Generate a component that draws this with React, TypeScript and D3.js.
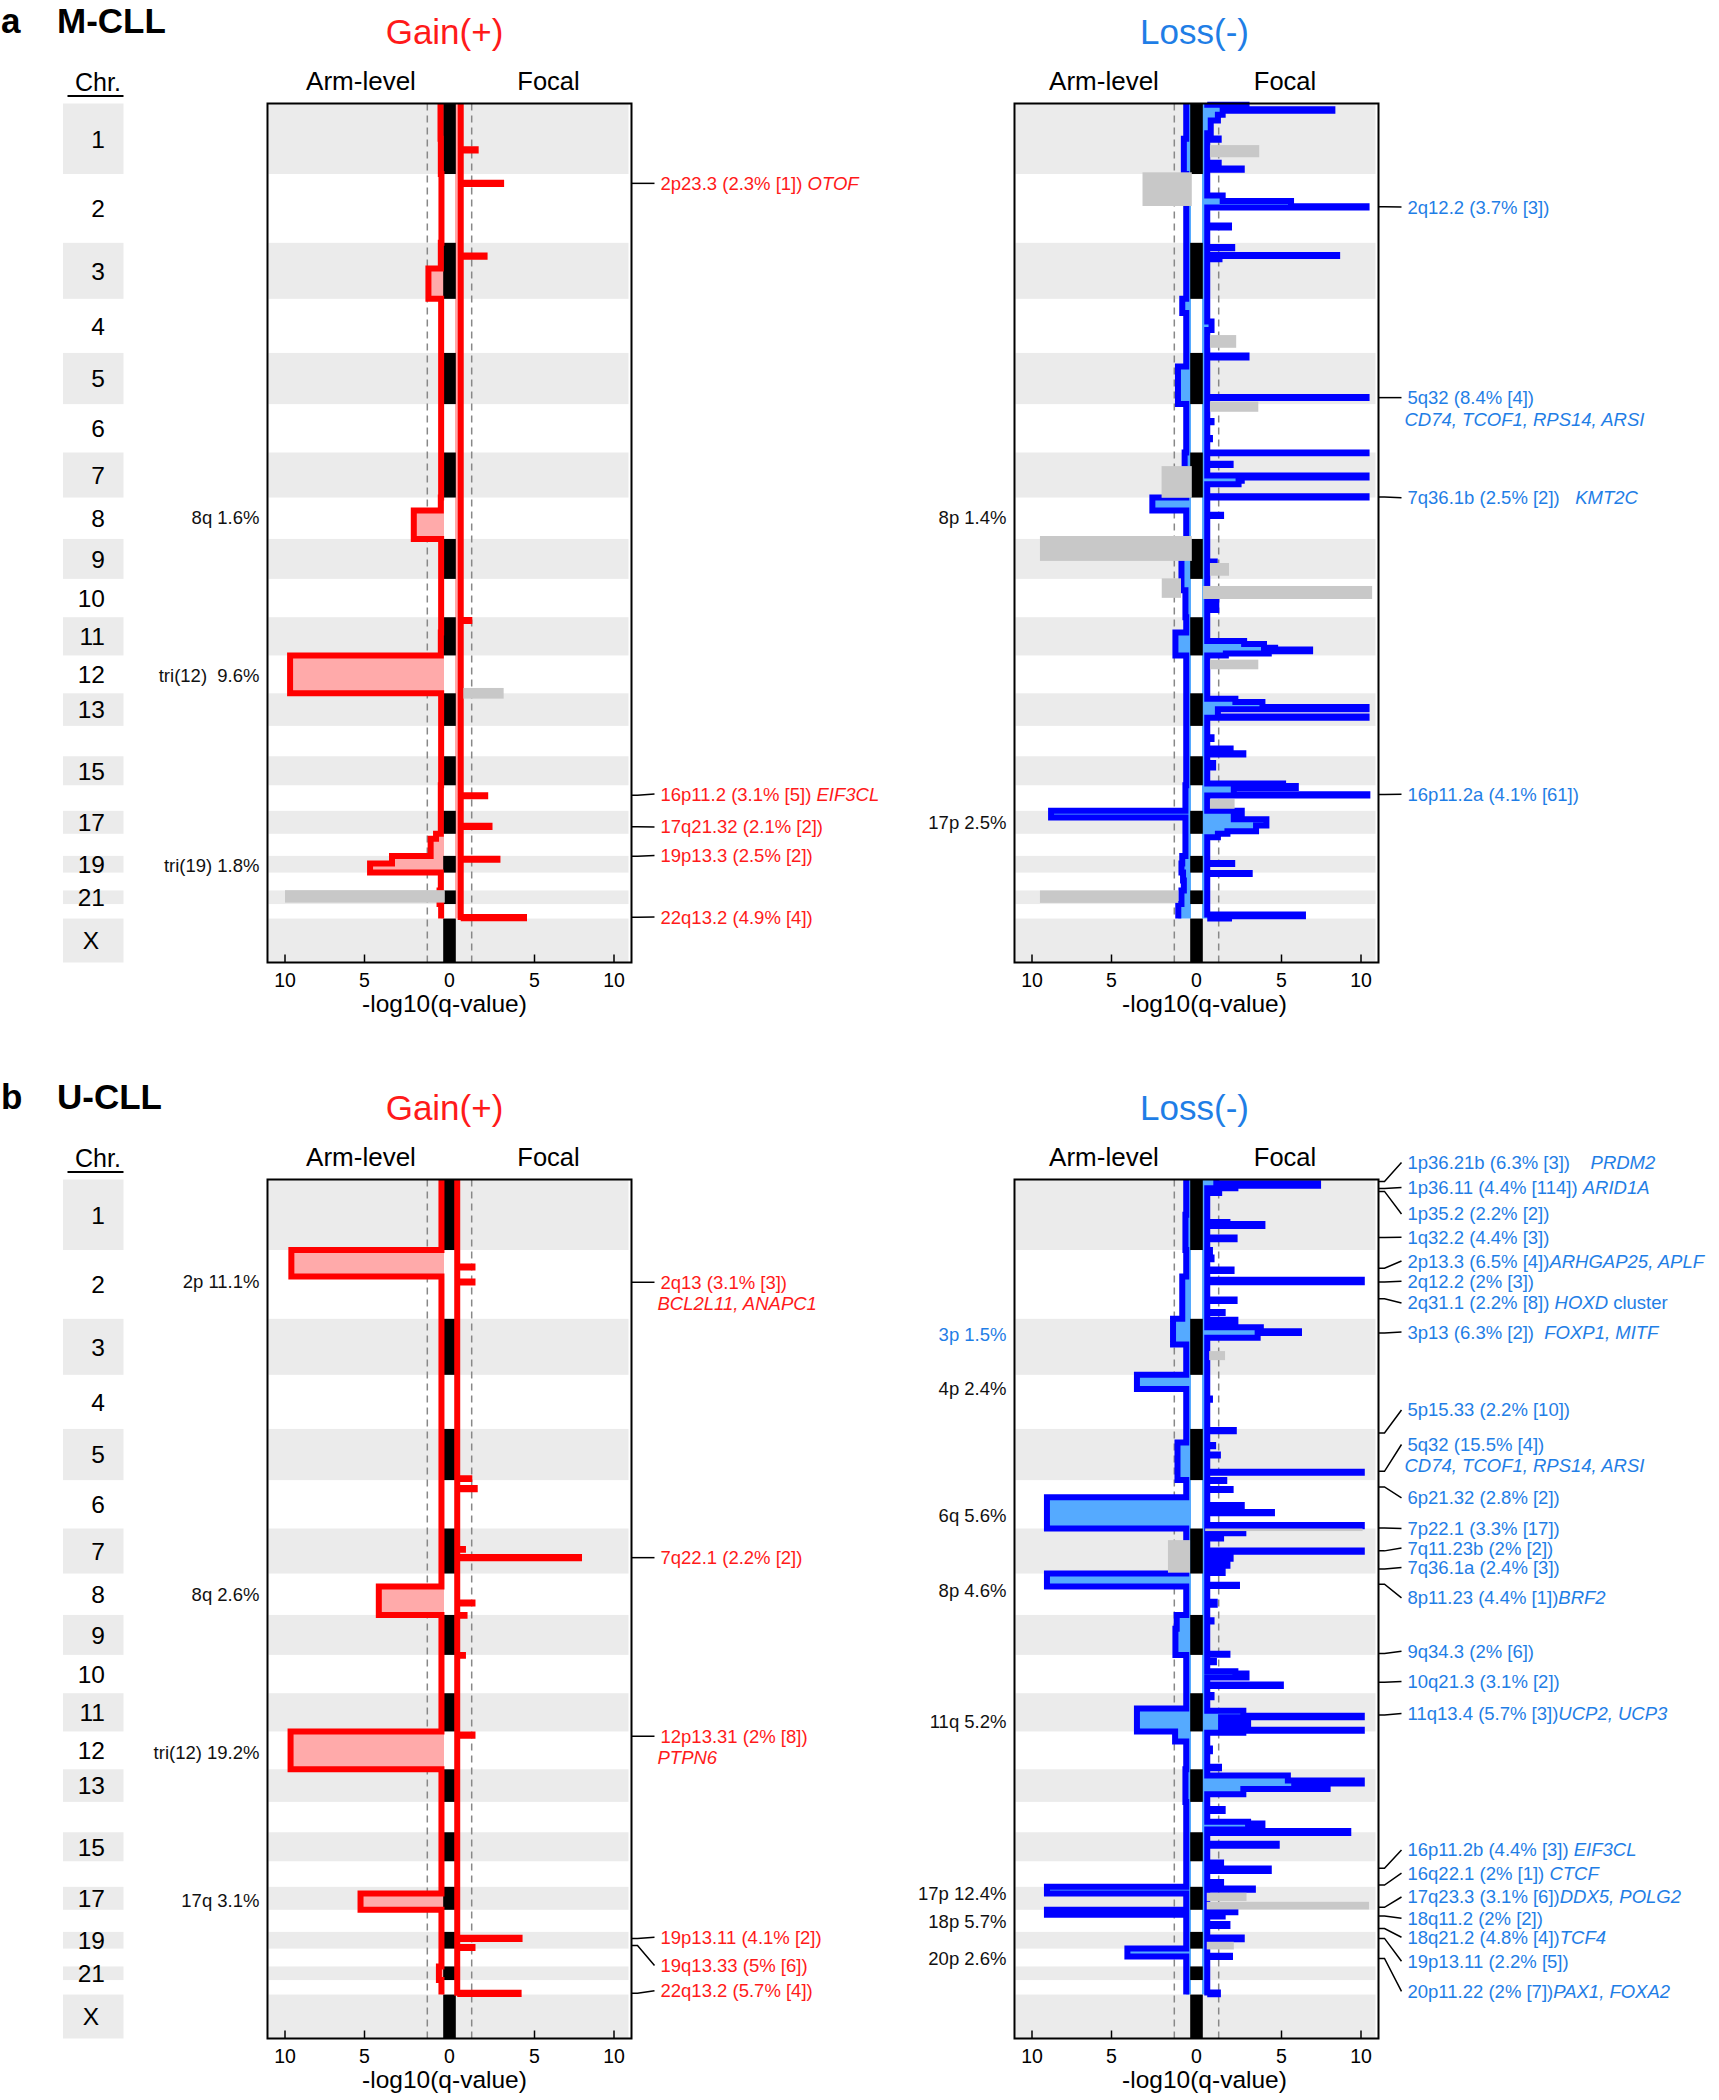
import React from 'react';
import * as d3 from 'd3';

type Pt = [number, number];
type Seg = [number, number, number, number]; // chr, startMb, endMb, -log10(q)
type Gray = [number, number, number, number, number, 'L' | 'R'];
type Pos = [number, number]; // chr, Mb
interface Ann { text: string; gene?: string; sep?: string; tail?: string; line2?: string; at: Pos; lab: Pos; }
interface ArmLabel { text: string; at: Pos; blue?: boolean; }

const chrNames = ['1', '2', '3', '4', '5', '6', '7', '8', '9', '10', '11', '12', '13', '14', '15', '16', '17', '18', '19', '20', '21', '22', 'X'];
const chrLengths = [249.25, 243.2, 198.0, 191.15, 180.9, 171.1, 159.1, 146.4, 141.2, 135.5, 135.0, 133.85, 115.2, 107.35, 102.5, 90.35, 81.2, 78.1, 59.1, 63.0, 48.1, 51.3, 155.3];
const centromeres = [125, 93.3, 91, 50.4, 48.4, 61, 59.9, 45.6, 49, 40.2, 53.7, 35.8, 17.9, 17.6, 19, 36.6, 24, 17.2, 26.5, 27.5, 13.2, 14.7, 60.6];
const labeledChrs = ['1', '2', '3', '4', '5', '6', '7', '8', '9', '10', '11', '12', '13', '15', '17', '19', '21', 'X'];
const tickValues = [10, 5, 0, 5, 10];

// arm-level -log10(q) per autosome: [p, q]
const gainArmM = [[0.22, 0.2], [0.16, 0.16], [0.2, 0.98], [0.18, 0.18], [0.18, 0.18], [0.18, 0.18], [0.18, 0.18], [0.2, 1.9], [0.18, 0.18], [0.18, 0.18], [0.18, 0.2], [9.68, 9.68], [0.18, 0.18], [0.18, 0.18], [0.18, 0.18], [0.2, 0.2], [0.2, 0.2], [0.5, 0.84], [3.27, 4.65], [0.2, 0.2], [0.28, 0.28], [0.18, 0.18]];
const lossArmM = [[0.3, 0.45], [0.3, 0.3], [0.3, 0.3], [0.55, 0.3], [0.3, 0.82], [0.3, 0.3], [0.4, 0.3], [2.43, 0.3], [0.3, 0.6], [0.6, 0.35], [0.3, 0.98], [0.3, 0.3], [0.3, 0.3], [0.3, 0.3], [0.3, 0.3], [0.35, 0.35], [8.8, 0.35], [0.35, 0.35], [0.55, 0.6], [0.5, 0.45], [0.6, 0.6], [0.8, 0.8]];
const gainArmU = [[0.16, 0.16], [9.6, 0.16], [0.16, 0.16], [0.16, 0.16], [0.16, 0.16], [0.16, 0.16], [0.16, 0.16], [0.16, 4.1], [0.16, 0.16], [0.16, 0.16], [0.16, 0.16], [9.65, 9.65], [0.16, 0.16], [0.16, 0.16], [0.16, 0.16], [0.16, 0.16], [0.16, 5.25], [0.16, 0.16], [0.16, 0.16], [0.16, 0.16], [0.32, 0.32], [0.16, 0.16]];
const lossArmU = [[0.3, 0.35], [0.3, 0.55], [1.13, 0.3], [3.4, 0.3], [0.3, 0.85], [0.3, 9.06], [0.3, 0.3], [9.06, 0.3], [0.9, 0.98], [0.3, 0.3], [0.3, 3.4], [1.0, 0.3], [0.35, 0.35], [0.3, 0.3], [0.3, 0.3], [0.3, 0.3], [9.06, 0.3], [9.06, 0.3], [0.3, 0.3], [4.0, 0.3], [0.3, 0.3], [0.3, 0.3]];

// focal peaks
const gainBaseM = 0.36;
const gainFocalM: Seg[] = [[1, 162, 166, 1.3], [2, 31, 35, 2.9], [3, 45, 49, 1.86], [11, 10, 13, 0.9], [16, 35, 39, 1.9], [17, 53, 57, 2.17], [19, 10, 14, 2.67], [22, 46, 50.5, 4.34]];
const lossBaseM = 0.33;
const lossFocalM: Seg[] = [
  [1, 4, 20, 2.8], [1, 20, 26, 8.2], [1, 26, 40, 1.3], [1, 40, 60, 1.0], [1, 60, 105, 0.55], [1, 124, 128, 1.05], [1, 209, 213, 1.05], [1, 230, 234, 2.5],
  [2, 76, 95, 1.3], [2, 95, 114, 5.6], [2, 114, 118, 10.35], [2, 182, 189, 1.7],
  [3, 15, 19, 1.9], [3, 43, 47, 8.5], [3, 47, 58, 1.1],
  [4, 80, 110, 0.6],
  [5, 9, 16, 2.8], [5, 156, 159, 10.35],
  [6, 60, 64, 0.6], [6, 120, 124, 0.5],
  [7, 0, 3, 10.35], [7, 40, 44, 1.8], [7, 81, 88, 10.35], [7, 88, 100, 2.5], [7, 100, 112, 2.3], [7, 155, 159.1, 10.35],
  [8, 61, 65, 1.2],
  [9, 80, 88, 0.8],
  [10, 80, 90, 0.9], [10, 100, 110, 0.9],
  [11, 84, 95, 2.65], [11, 95, 108, 3.9], [11, 108, 114, 4.6], [11, 114, 120, 6.8], [11, 120, 128, 4.2], [11, 128, 135, 1.5],
  [13, 19, 31, 2.1], [13, 31, 48, 3.8], [13, 48, 56, 10.35], [13, 56, 82, 1.0], [13, 82, 86, 10.35],
  [14, 40, 46, 0.6], [14, 80, 87, 1.8], [14, 97, 101, 2.6],
  [15, 24, 40, 0.7], [15, 96, 102.5, 5.1],
  [16, 0, 3, 5.1], [16, 3, 10, 5.9], [16, 10, 32, 2.0], [16, 32, 36, 10.4],
  [17, 0, 20, 2.5], [17, 20, 30, 2.0], [17, 30, 52, 4.05], [17, 52, 72, 3.4], [17, 72, 81.2, 1.6],
  [18, 0, 12, 1.0],
  [19, 25, 29, 1.9],
  [20, 1, 5, 3.0],
  [22, 37, 43, 6.35], [22, 43, 51.3, 1.7],
];
const gainBaseU = 0.14;
const gainFocalU: Seg[] = [[2, 58, 62, 1.1], [2, 111, 115, 1.1], [5, 174, 177, 0.9], [6, 28, 32, 1.24], [7, 72, 75, 0.5], [7, 101, 105, 7.8], [8, 102, 106, 1.1], [9, 0, 3, 0.6], [10, 0, 3, 0.5], [12, 11, 15, 1.1], [19, 21, 25, 4.06], [19, 53, 57, 1.1], [22, 45, 49, 4.0]];
const lossBaseU = 0.33;
const lossFocalU: Seg[] = [
  [1, 0, 13, 0.9], [1, 13, 22, 7.3], [1, 22, 31, 2.1], [1, 44, 48, 1.08], [1, 150, 157, 1.6], [1, 157, 164, 3.8], [1, 205, 211, 2.05],
  [2, 0, 5, 0.5], [2, 26, 33, 0.6], [2, 69, 74, 1.86], [2, 105, 114, 10.05], [2, 175, 180, 2.05], [2, 219, 223, 1.3],
  [3, 3, 13, 2.1], [3, 30, 44, 3.7], [3, 44, 50, 6.1], [3, 50, 67, 3.5],
  [4, 84, 88, 0.5],
  [5, 4, 8, 2.0], [5, 57, 61, 0.7], [5, 90, 94, 1.0], [5, 151, 155, 10.05],
  [6, 0, 3, 1.4], [6, 31, 35, 1.8], [6, 88, 92, 2.5], [6, 113, 117, 4.4], [6, 159, 163, 10.05],
  [7, 13, 17, 2.6], [7, 30, 35, 1.2], [7, 78, 82, 10.05], [7, 103, 107, 1.8], [7, 128, 132, 1.6], [7, 153, 157, 1.3],
  [8, 40, 44, 2.2], [8, 100, 110, 0.8],
  [9, 19, 23, 0.6], [9, 137, 141, 1.6],
  [10, 22, 26, 0.75], [10, 58, 66, 2.1], [10, 66, 80, 2.8], [10, 105, 110, 4.96],
  [11, 6, 14, 0.6], [11, 62, 80, 2.6], [11, 80, 85, 10.05], [11, 85, 100, 1.2], [11, 100, 110, 2.9], [11, 110, 129, 1.2], [11, 129, 133, 10.05], [11, 133, 135, 2.6],
  [12, 0, 5, 2.6], [12, 60, 70, 0.5], [12, 125, 130, 1.07],
  [13, 22, 40, 5.4], [13, 40, 50, 10.05], [13, 50, 56, 5.8], [13, 56, 70, 7.9], [13, 70, 88, 2.6],
  [14, 25, 32, 1.3], [14, 70, 76, 2.9], [14, 76, 98, 3.8], [14, 103, 107.35, 9.2],
  [15, 0, 3, 9.2], [15, 41, 48, 4.7],
  [16, 4, 11, 1.2], [16, 26, 34, 4.2], [16, 73, 77, 1.2],
  [17, 6, 10, 3.2],
  [18, 5, 9, 2.1], [18, 19, 24, 1.3], [18, 50, 57, 1.6],
  [19, 20, 26, 2.5],
  [20, 25, 30, 1.76],
  [22, 44, 50, 1.0],
];

// grey regions: chr, startMb, endMb, from, to, side
const grayGainM: Gray[] = [[12, 115, 152.7, 0.53, 3.06, 'R'], [21, -1, 43, -0.05, 10.0, 'L']];
const grayLossM: Gray[] = [
  [1, 147, 190, 0.5, 3.6, 'R'], [2, -6, 113, -0.05, 3.05, 'L'], [4, 128, 173, 0.5, 2.15, 'R'], [5, 172, 208, 0.5, 3.54, 'R'],
  [7, 48, 160, -0.05, 1.85, 'L'], [8, 136, 224, -0.05, 9.5, 'L'], [9, 85, 130, 0.5, 1.7, 'R'], [10, -2, 67, 0.63, 1.84, 'L'],
  [10, 25, 71, 0.05, 10.7, 'R'], [12, 15, 49, 0.5, 3.54, 'R'], [16, 49, 83, 0.5, 2.05, 'R'], [21, 0, 44, 0.8, 9.5, 'L'],
];
const grayGainU: Gray[] = [];
const grayLossU: Gray[] = [
  [3, 114, 146, 0.45, 1.45, 'R'], [7, 0, 9, 0.2, 10.1, 'R'], [7, 41, 156, 0.06, 1.45, 'L'],
  [17, 21, 50, 0.3, 2.8, 'R'], [17, 53, 80, 0.3, 10.5, 'R'], [19, 35, 62, 0.3, 2.0, 'R'],
];

// peak annotations
const annGainM: Ann[] = [
  { text: '2p23.3 (2.3% [1])', gene: 'OTOF', sep: ' ', at: [2, 33], lab: [2, 33] },
  { text: '16p11.2 (3.1% [5])', gene: 'EIF3CL', sep: ' ', at: [16, 35], lab: [16, 31] },
  { text: '17q21.32 (2.1% [2])', at: [17, 56], lab: [17, 57] },
  { text: '19p13.3 (2.5% [2])', at: [19, 1], lab: [19, -1] },
  { text: '22q13.2 (4.9% [4])', at: [22, 47], lab: [22, 46] },
];
const annLossM: Ann[] = [
  { text: '2q12.2 (3.7% [3])', at: [2, 116], lab: [2, 117] },
  { text: '5q32 (8.4% [4])', line2: 'CD74, TCOF1, RPS14, ARSI', at: [5, 158], lab: [5, 158] },
  { text: '7q36.1b (2.5% [2])', gene: 'KMT2C', sep: '   ', at: [7, 157], lab: [7, 160] },
  { text: '16p11.2a (4.1% [61])', at: [16, 33], lab: [16, 32] },
];
const annGainU: Ann[] = [
  { text: '2q13 (3.1% [3])', line2: 'BCL2L11, ANAPC1', at: [2, 114], lab: [2, 114] },
  { text: '7q22.1 (2.2% [2])', at: [7, 103], lab: [7, 103] },
  { text: '12p13.31 (2% [8])', line2: 'PTPN6', at: [12, 17], lab: [12, 17] },
  { text: '19p13.11 (4.1% [2])', at: [19, 23], lab: [19, 19] },
  { text: '19q13.33 (5% [6])', at: [19, 48], lab: [19, 119] },
  { text: '22q13.2 (5.7% [4])', at: [22, 47], lab: [22, 38] },
];
const annLossU: Ann[] = [
  { text: '1p36.21b (6.3% [3])', gene: 'PRDM2', sep: '    ', at: [1, 7], lab: [1, -60] },
  { text: '1p36.11 (4.4% [114])', gene: 'ARID1A', sep: ' ', at: [1, 32], lab: [1, 28] },
  { text: '1p35.2 (2.2% [2])', at: [1, 42], lab: [1, 122] },
  { text: '1q32.2 (4.4% [3])', at: [1, 205], lab: [1, 204] },
  { text: '2p13.3 (6.5% [4])', gene: 'ARHGAP25, APLF', sep: '', at: [2, 64], lab: [2, 39] },
  { text: '2q12.2 (2% [3])', at: [2, 113], lab: [2, 110] },
  { text: '2q31.1 (2.2% [8])', gene: 'HOXD', sep: ' ', tail: ' cluster', at: [2, 172], lab: [2, 187] },
  { text: '3p13 (6.3% [2])', gene: 'FOXP1, MITF', sep: '  ', at: [3, 50], lab: [3, 47] },
  { text: '5p15.33 (2.2% [10])', at: [5, 14], lab: [5, -67] },
  { text: '5q32 (15.5% [4])', line2: 'CD74, TCOF1, RPS14, ARSI', at: [5, 150], lab: [5, 55] },
  { text: '6p21.32 (2.8% [2])', at: [6, 24], lab: [6, 63] },
  { text: '7p22.1 (3.3% [17])', at: [7, -2], lab: [7, 0] },
  { text: '7q11.23b (2% [2])', at: [7, 79], lab: [7, 69] },
  { text: '7q36.1a (2.4% [3])', at: [7, 143], lab: [7, 138] },
  { text: '8p11.23 (4.4% [1])', gene: 'BRF2', sep: '', at: [8, 38], lab: [8, 86] },
  { text: '9q34.3 (2% [6])', at: [9, 136], lab: [9, 128] },
  { text: '10q21.3 (3.1% [2])', at: [10, 97], lab: [10, 94] },
  { text: '11q13.4 (5.7% [3])', gene: 'UCP2, UCP3', sep: '', at: [11, 77], lab: [11, 72] },
  { text: '16p11.2b (4.4% [3])', gene: 'EIF3CL', sep: ' ', at: [16, 25], lab: [16, -40] },
  { text: '16q22.1 (2% [1])', gene: 'CTCF', sep: ' ', at: [16, 84], lab: [16, 42] },
  { text: '17q23.3 (3.1% [6])', gene: 'DDX5, POLG2', sep: '', at: [17, 72.5], lab: [17, 36] },
  { text: '18q11.2 (2% [2])', at: [18, 22], lab: [18, 30] },
  { text: '18q21.2 (4.8% [4])', gene: 'TCF4', sep: '', at: [18, 66], lab: [18, 97] },
  { text: '19p13.11 (2.2% [5])', at: [19, 23], lab: [19, 104] },
  { text: '20p11.22 (2% [7])', gene: 'PAX1, FOXA2', sep: '', at: [20, 35], lab: [20, 151] },
];

// arm-level event labels
const armLabGainM: ArmLabel[] = [{ text: '8q 1.6%', at: [8, 70] }, { text: 'tri(12)  9.6%', at: [12, 72] }, { text: 'tri(19) 1.8%', at: [19, 35] }];
const armLabLossM: ArmLabel[] = [{ text: '8p 1.4%', at: [8, 72] }, { text: '17p 2.5%', at: [17, 43] }];
const armLabGainU: ArmLabel[] = [{ text: '2p 11.1%', at: [2, 110] }, { text: '8q 2.6%', at: [8, 74] }, { text: 'tri(12) 19.2%', at: [12, 74] }, { text: '17q 3.1%', at: [17, 50] }];
const armLabLossU: ArmLabel[] = [
  { text: '3p 1.5%', at: [3, 57], blue: true }, { text: '4p 2.4%', at: [4, 47] }, { text: '6q 5.6%', at: [6, 125] }, { text: '8p 4.6%', at: [8, 60] },
  { text: '11q 5.2%', at: [11, 100] }, { text: '17p 12.4%', at: [17, 22] }, { text: '18p 5.7%', at: [18, 40] }, { text: '20p 2.6%', at: [20, 36] },
];

const chrStart = chrLengths.map((_, i) => d3.sum(chrLengths.slice(0, i)));
const genomeLen = d3.sum(chrLengths);
const autosomeEnd = chrStart[22];
const gpos = (p: Pos) => chrStart[p[0] - 1] + p[1];

const PLOT_H = 859;
const HALF = 182;
const GAP = 5.5;
const UNIT = 15.9;
const STROKE = 6;
const CENTER = { gain: 449.5, loss: 1196.5 };
const FONT = "'Liberation Sans', Arial, Helvetica, sans-serif";
const COLORS = {
  gain: { line: '#ff0000', fill: '#ffaaaa', text: '#ff1a1a' },
  loss: { line: '#0000ff', fill: '#55aaff', text: '#1f7ee6' },
};

function armPoints(arm: number[][]): Pt[] {
  const pts: Pt[] = [];
  arm.forEach(([p, q], i) => {
    const s = chrStart[i];
    pts.push([p, s], [p, s + centromeres[i]], [q, s + centromeres[i]], [q, s + chrLengths[i]]);
  });
  return pts;
}

function focalPoints(peaks: Seg[], base: number): Pt[] {
  const segs = peaks.map(([ch, s, e, v]) => [chrStart[ch - 1] + s, chrStart[ch - 1] + e, v]).sort((a, b) => a[0] - b[0]);
  const pts: Pt[] = [];
  let pos = 0;
  segs.forEach(([s, e, v]) => {
    if (s > pos) pts.push([base, pos], [base, s]);
    const st = Math.max(s, pos);
    pts.push([v, st], [v, e]);
    pos = Math.max(pos, e);
  });
  pts.push([base, pos], [base, autosomeEnd]);
  return pts;
}

interface PlotProps {
  kind: 'gain' | 'loss';
  top: number;
  arm: number[][];
  focal: Seg[];
  base: number;
  gray: Gray[];
  ann: Ann[];
  armLabels: ArmLabel[];
}

const Plot: React.FC<PlotProps> = ({ kind, top, arm, focal, base, gray, ann, armLabels }) => {
  const c = CENTER[kind];
  const col = COLORS[kind];
  const boxL = c - HALF;
  const boxR = c + HALF;
  const bottom = top + PLOT_H;
  const y = d3.scaleLinear().domain([0, genomeLen]).range([top, bottom]);
  const xR = d3.scaleLinear().domain([0, 10]).range([c + GAP, c + GAP + 10 * UNIT]);
  const xL = d3.scaleLinear().domain([0, 10]).range([c - GAP, c - GAP - 10 * UNIT]);

  const armPts = armPoints(arm);
  const focPts = focalPoints(focal, base);
  const lineL = d3.line<Pt>().x(d => xL(d[0])).y(d => y(d[1]));
  const lineR = d3.line<Pt>().x(d => xR(d[0])).y(d => y(d[1]));
  const areaL = d3.area<Pt>().y(d => y(d[1])).x0(xL(0)).x1(d => xL(d[0]));
  const areaR = d3.area<Pt>().y(d => y(d[1])).x0(xR(0)).x1(d => xR(d[0]));

  const ticks = tickValues.map((v, i) => ({ v, x: v === 0 ? c : i < 2 ? xL(v) : xR(v) }));
  const thr = 1.05;
  const titleX = kind === 'gain' ? c - 5 : c - 2;
  const armX = kind === 'gain' ? c - 88.5 : c - 92.5;
  const focX = kind === 'gain' ? c + 99 : c + 88.5;
  const axisX = kind === 'gain' ? c - 5 : c + 8;

  return (
    <g>
      <text x={titleX} y={top - 60} fontSize={35} fill={col.text} textAnchor="middle">{kind === 'gain' ? 'Gain(+)' : 'Loss(-)'}</text>
      <text x={armX} y={top - 13.5} fontSize={26} textAnchor="middle">Arm-level</text>
      <text x={focX} y={top - 13.5} fontSize={25.5} textAnchor="middle">Focal</text>

      {chrNames.map((n, i) => i % 2 === 0 ? (
        <rect key={n} x={boxL + 1} y={y(chrStart[i])} width={boxR - boxL - 4} height={y(chrStart[i] + chrLengths[i]) - y(chrStart[i])} fill="#ebebeb" />
      ) : null)}

      {[xL(thr), xR(thr)].map((x, i) => (
        <line key={i} x1={x} x2={x} y1={top} y2={bottom} stroke="#888" strokeWidth={1.5} strokeDasharray="7,5" />
      ))}

      <path d={areaL(armPts) || ''} fill={col.fill} />
      <path d={areaR(focPts) || ''} fill={col.fill} />

      {chrNames.map((n, i) => i % 2 === 0 ? (
        <rect key={n} x={c - 6.3} y={y(chrStart[i])} width={12.6} height={y(chrStart[i] + chrLengths[i]) - y(chrStart[i])} fill="#000" />
      ) : null)}

      <path d={lineL(armPts) || ''} fill="none" stroke={col.line} strokeWidth={STROKE} strokeLinejoin="miter" />
      <path d={lineR(focPts) || ''} fill="none" stroke={col.line} strokeWidth={STROKE} strokeLinejoin="miter" />

      {gray.map(([ch, s, e, v0, v1, side], i) => {
        const xs = side === 'L' ? xL : xR;
        const xa = xs(v0), xb = xs(v1);
        const y0 = y(chrStart[ch - 1] + s), y1 = y(chrStart[ch - 1] + e);
        return <rect key={i} x={Math.min(xa, xb)} y={y0} width={Math.abs(xb - xa)} height={y1 - y0} fill="#c8c8c8" />;
      })}

      <rect x={boxL} y={top} width={boxR - boxL} height={PLOT_H} fill="none" stroke="#000" strokeWidth={2} />
      {ticks.map((t, i) => (
        <g key={i}>
          <line x1={t.x} x2={t.x} y1={bottom} y2={bottom - 8} stroke="#000" strokeWidth={1.5} />
          <text x={t.x} y={bottom + 24.5} fontSize={19.5} textAnchor="middle">{t.v}</text>
        </g>
      ))}
      <text x={axisX} y={bottom + 49.5} fontSize={24.5} textAnchor="middle">-log10(q-value)</text>

      {armLabels.map((a, i) => (
        <text key={i} x={boxL - 8} y={y(gpos(a.at))} dy="0.35em" fontSize={18.5} textAnchor="end" fill={a.blue ? col.text : '#111'} style={{ whiteSpace: 'pre' }}>{a.text}</text>
      ))}

      {ann.map((a, i) => {
        const ty = y(gpos(a.at));
        const ly = y(gpos(a.lab));
        const tx = boxR + 29;
        return (
          <g key={i}>
            <polyline points={`${boxR},${ty} ${boxR + 6},${ty} ${boxR + 23},${ly}`} fill="none" stroke="#000" strokeWidth={1.5} />
            <text x={tx} y={ly} dy="0.35em" fontSize={18.5} fill={col.text} style={{ whiteSpace: 'pre' }}>
              {a.text + (a.sep || '')}
              {a.gene ? <tspan fontStyle="italic">{a.gene}</tspan> : null}
              {a.tail ? <tspan>{a.tail}</tspan> : null}
            </text>
            {a.line2 ? (
              <text x={tx - 3} y={ly + 21.5} dy="0.35em" fontSize={18.5} fill={col.text} fontStyle="italic">{a.line2}</text>
            ) : null}
          </g>
        );
      })}
    </g>
  );
};

interface PanelProps {
  letter: string;
  name: string;
  top: number;
  gain: Omit<PlotProps, 'kind' | 'top'>;
  loss: Omit<PlotProps, 'kind' | 'top'>;
}

const Panel: React.FC<PanelProps> = ({ letter, name, top, gain, loss }) => {
  const y = d3.scaleLinear().domain([0, genomeLen]).range([top, top + PLOT_H]);
  return (
    <g>
      <text x={1} y={top - 70.5} fontSize={35} fontWeight="bold">{letter}</text>
      <text x={57} y={top - 71} fontSize={35} fontWeight="bold">{name}</text>
      <text x={75} y={top - 13} fontSize={25}>Chr.</text>
      <line x1={67.5} x2={123.5} y1={top - 7.5} y2={top - 7.5} stroke="#000" strokeWidth={1.8} />
      {chrNames.map((n, i) => {
        const y0 = y(chrStart[i]);
        const y1 = y(chrStart[i] + chrLengths[i]);
        return (
          <g key={n}>
            {i % 2 === 0 ? <rect x={63} y={y0} width={60.5} height={y1 - y0} fill="#ebebeb" /> : null}
            {labeledChrs.includes(n) ? (
              <text x={n === 'X' ? 91 : 105} y={(y0 + y1) / 2} dy="0.36em" fontSize={24.5} textAnchor={n === 'X' ? 'middle' : 'end'}>{n}</text>
            ) : null}
          </g>
        );
      })}
      <Plot kind="gain" top={top} {...gain} />
      <Plot kind="loss" top={top} {...loss} />
    </g>
  );
};

export default function App() {
  return (
    <div style={{ position: 'absolute', left: 0, top: 0 }}>
      <svg width={1719} height={2100} viewBox="0 0 1719 2100" style={{ display: 'block', background: '#fff' }} fontFamily={FONT}>
        <rect x={0} y={0} width={1719} height={2100} fill="#fff" />
        <Panel
          letter="a" name="M-CLL" top={103.5}
          gain={{ arm: gainArmM, focal: gainFocalM, base: gainBaseM, gray: grayGainM, ann: annGainM, armLabels: armLabGainM }}
          loss={{ arm: lossArmM, focal: lossFocalM, base: lossBaseM, gray: grayLossM, ann: annLossM, armLabels: armLabLossM }}
        />
        <Panel
          letter="b" name="U-CLL" top={1179.5}
          gain={{ arm: gainArmU, focal: gainFocalU, base: gainBaseU, gray: grayGainU, ann: annGainU, armLabels: armLabGainU }}
          loss={{ arm: lossArmU, focal: lossFocalU, base: lossBaseU, gray: grayLossU, ann: annLossU, armLabels: armLabLossU }}
        />
      </svg>
    </div>
  );
}
